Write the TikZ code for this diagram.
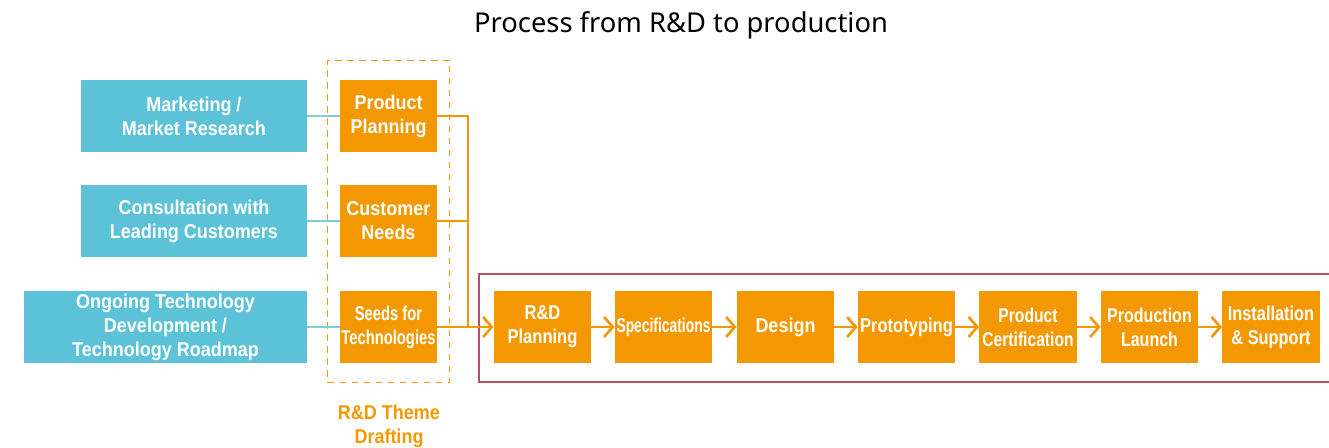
\documentclass[tikz,border=0pt]{standalone}
\usepackage{fontspec}
\setmainfont{Liberation Sans}
\newfontfamily\boxfont[FakeStretch=0.9]{Liberation Sans}
\newfontfamily\titlefont{Noto Sans}
\usetikzlibrary{arrows.meta, positioning, fit}
\definecolor{procorange}{RGB}{243, 152, 0}
\definecolor{srcblue}{RGB}{91, 194, 216}
\definecolor{linkblue}{RGB}{125, 205, 225}
\definecolor{framered}{RGB}{180, 80, 100}
\newcommand{\squeeze}[2]{\scalebox{#1}[1]{#2}}

\begin{document}
\begin{tikzpicture}[
  x=0.75pt, y=-0.75pt,
  every node/.style = {font=\boxfont\bfseries\fontsize{15}{18}\selectfont},
  blk/.style = {
    rectangle, fill=#1, text=white,
    minimum width=73pt, minimum height=54pt,
    inner sep=0pt, align=center
  },
  src/.style = {blk=srcblue, minimum width=#1},
  arr/.style = {-{Straight Barb[length=6.5pt, width=15pt]}, line width=2pt, draw=procorange},
  feed/.style = {line width=2pt, draw=procorange},
  link/.style = {line width=1.2pt, draw=linkblue},
  grp/.style = {
    rectangle, draw=procorange, dashed, dash pattern=on 5pt off 4pt,
    line width=1.2pt, inner xsep=9pt, inner ysep=14.5pt
  }
]
\useasboundingbox (0,0) rectangle (1329,448);

% ---- TITLE ----
\node (title) at (681,25) {\titlefont\mdseries\fontsize{20.5}{24}\selectfont Process from R\&D to production};

% ---- SOURCES (blue) ----
\node[src=169.5pt] (mkt)  at (194,116)   {Marketing /\\Market Research};
\node[src=169.5pt] (cons) at (194,221)   {Consultation with\\Leading Customers};
\node[src=212pt]   (tech) at (165.5,327) {Ongoing Technology\\Development /\\Technology Roadmap};

% ---- THEME DRAFTING (orange column) ----
\node[blk=procorange] (plan)  at (388.5,116) {Product\\Planning};
\node[blk=procorange] (needs) at (388.5,221) {Customer\\Needs};
\node[blk=procorange] (seeds) at (388.5,327) {\squeeze{0.82}{Seeds for}\\\squeeze{0.82}{Technologies}};

\node[grp, fit=(plan)(needs)(seeds)] (theme) {};
\node[text=procorange, align=center] (themelbl) at (389,426) {R\&D Theme\\Drafting};

% ---- PROCESS ROW ----
\node[blk=procorange] (rdplan) at (542.5,327)  {\squeeze{0.92}{R\&D}\\\squeeze{0.92}{Planning}};
\node[blk=procorange] (spec)   at (663.5,327)  {\squeeze{0.77}{Specifications}};
\node[blk=procorange] (dsgn)   at (785.5,327)  {Design};
\node[blk=procorange] (proto)  at (906.5,327)  {\squeeze{0.92}{Prototyping}};
\node[blk=procorange] (cert)   at (1028,327)   {\squeeze{0.87}{Product}\\\squeeze{0.87}{Certification}};
\node[blk=procorange] (launch) at (1149.5,327) {\squeeze{0.89}{Production}\\\squeeze{0.89}{Launch}};
\node[blk=procorange] (inst)   at (1271,327)   {\squeeze{0.91}{Installation}\\\squeeze{0.91}{\& Support}};

% ---- FRAME round the process row ----
\draw[framered, line width=1.5pt] (479,274) rectangle (1345,382);

% ---- blue links ----
\draw[link] (mkt)  -- (plan);
\draw[link] (cons) -- (needs);
\draw[link] (tech) -- (seeds);

% ---- feed into R&D planning ----
\coordinate (bus) at (468,327);
\draw[feed] (plan.east) -| (bus);
\draw[feed] (needs.east) -- (needs.east -| bus);
\draw[arr] (seeds) -- (rdplan);

% ---- process arrows ----
\foreach \a/\b in {rdplan/spec, spec/dsgn, dsgn/proto, proto/cert, cert/launch, launch/inst}
  \draw[arr] (\a) -- (\b);

\end{tikzpicture}
\end{document}
